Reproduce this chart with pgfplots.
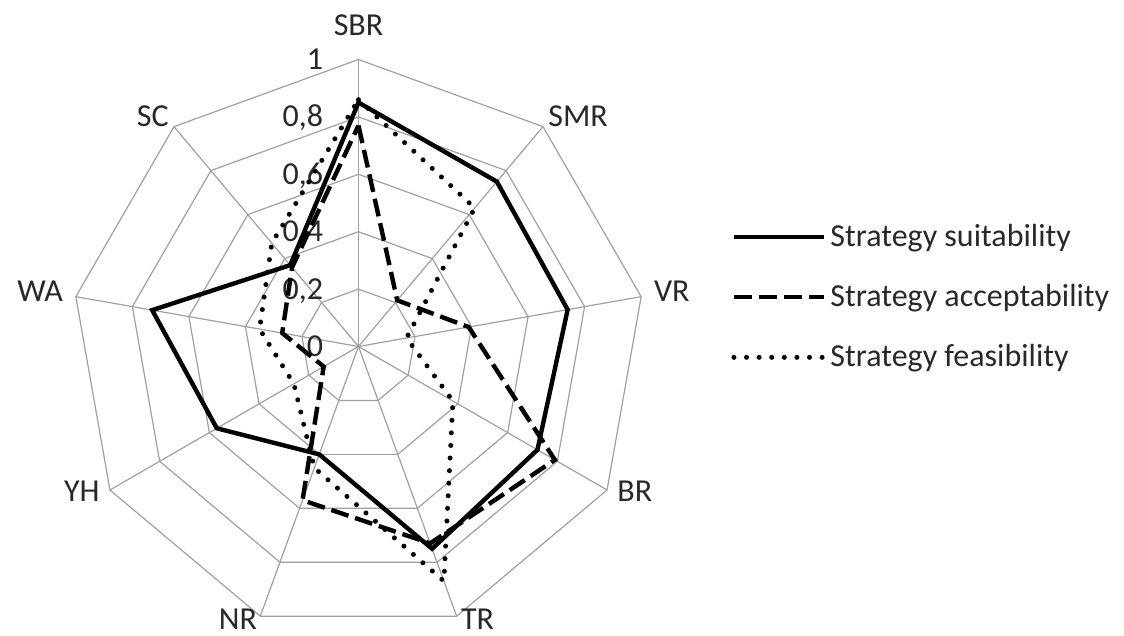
\documentclass[border=0pt]{standalone}
\usepackage{fontspec}
\setmainfont{Carlito}
\usepackage{pgfplots}
\pgfplotsset{compat=1.18}
\usepgfplotslibrary{polar}
\definecolor{gridc}{RGB}{160,160,160}
\definecolor{txt}{RGB}{40,40,40}
\begin{document}
\begin{tikzpicture}[font=\fontsize{16pt}{19pt}\selectfont, text=txt,
  tlab/.style={anchor=base east, inner sep=0pt, xshift=-17.5pt, yshift=-5pt}]
\useasboundingbox (-179.25pt,-144.75pt) rectangle (382.75pt,173.25pt);
\begin{polaraxis}[
  at={(0pt,0pt)}, anchor=center,
  scale only axis, width=287pt, height=287pt,
  ymin=0, ymax=1, hide axis, clip=false,
  legend cell align=left,
  legend style={draw=none, fill=none, inner sep=0pt, row sep=13.5pt,
    at={(axis description cs:1.149,0.586)}, anchor=west,
    nodes={inner sep=2pt, text=txt}},
  legend image code/.code={\draw[#1] (0pt,0pt) -- (45pt,0pt);},
]
\pgfplotsinvokeforeach{0.2,0.4,0.6,0.8,1}{
  \addplot[gridc, line width=0.6pt, forget plot] coordinates {(90,#1) (50,#1) (10,#1) (-30,#1) (-70,#1) (-110,#1) (-150,#1) (-190,#1) (-230,#1) (-270,#1) (-310,#1)};
}
\pgfplotsinvokeforeach{90,50,10,-30,-70,-110,-150,-190,-230}{
  \addplot[gridc, line width=0.6pt, forget plot] coordinates {(#1,0) (#1,1)};
}
% tick labels
\node[tlab] at (axis cs:90,0) {0};
\node[tlab] at (axis cs:90,0.2) {0,2};
\node[tlab] at (axis cs:90,0.4) {0,4};
\node[tlab] at (axis cs:90,0.6) {0,6};
\node[tlab] at (axis cs:90,0.8) {0,8};
\node[tlab] at (axis cs:90,1) {1};
% category labels
\node[anchor=base, inner sep=0pt, yshift=11.75pt] at (axis cs:90,1) {SBR};
\node[anchor=base west, inner sep=0pt, xshift=2.5pt] at (axis cs:50,1) {SMR};
\node[anchor=base west, inner sep=0pt, xshift=6.25pt, yshift=-2.5pt] at (axis cs:10,1) {VR};
\node[anchor=base west, inner sep=0pt, xshift=5pt, yshift=-6pt] at (axis cs:-30,1) {BR};
\node[anchor=base west, inner sep=0pt, xshift=2pt, yshift=-6.5pt] at (axis cs:-70,1) {TR};
\node[anchor=base east, inner sep=0pt, xshift=-1.5pt, yshift=-6.5pt] at (axis cs:-110,1) {NR};
\node[anchor=base east, inner sep=0pt, xshift=-5pt, yshift=-6pt] at (axis cs:-150,1) {YH};
\node[anchor=base east, inner sep=0pt, xshift=-6.25pt, yshift=-2.5pt] at (axis cs:-190,1) {WA};
\node[anchor=base east, inner sep=0pt, xshift=-2.5pt] at (axis cs:-230,1) {SC};
% data: SBR, SMR, VR, BR, TR, NR, YH, WA, SC, SBR
\addplot[black, line width=2.2pt, line join=miter] coordinates {
  (90,0.85) (50,0.75) (10,0.74) (-30,0.72) (-70,0.75) (-110,0.40) (-150,0.57) (-190,0.73) (-230,0.37) (-270,0.85) (-310,0.75)};
\addlegendentry{Strategy suitability}
\addplot[black, line width=2.2pt, dash pattern=on 9pt off 3.5pt] coordinates {
  (90,0.77) (50,0.21) (10,0.39) (-30,0.79) (-70,0.73) (-110,0.57) (-150,0.14) (-190,0.27) (-230,0.36) (-270,0.77)};
\addlegendentry{Strategy acceptability}
\addplot[black, line width=2.5pt, line cap=round, dash pattern=on 0pt off 6.3pt] coordinates {
  (90,0.86) (50,0.63) (10,0.17) (-30,0.38) (-70,0.87) (-110,0.45) (-150,0.26) (-190,0.35) (-230,0.47) (-270,0.86)};
\addlegendentry{Strategy feasibility}
\end{polaraxis}
\end{tikzpicture}
\end{document}
